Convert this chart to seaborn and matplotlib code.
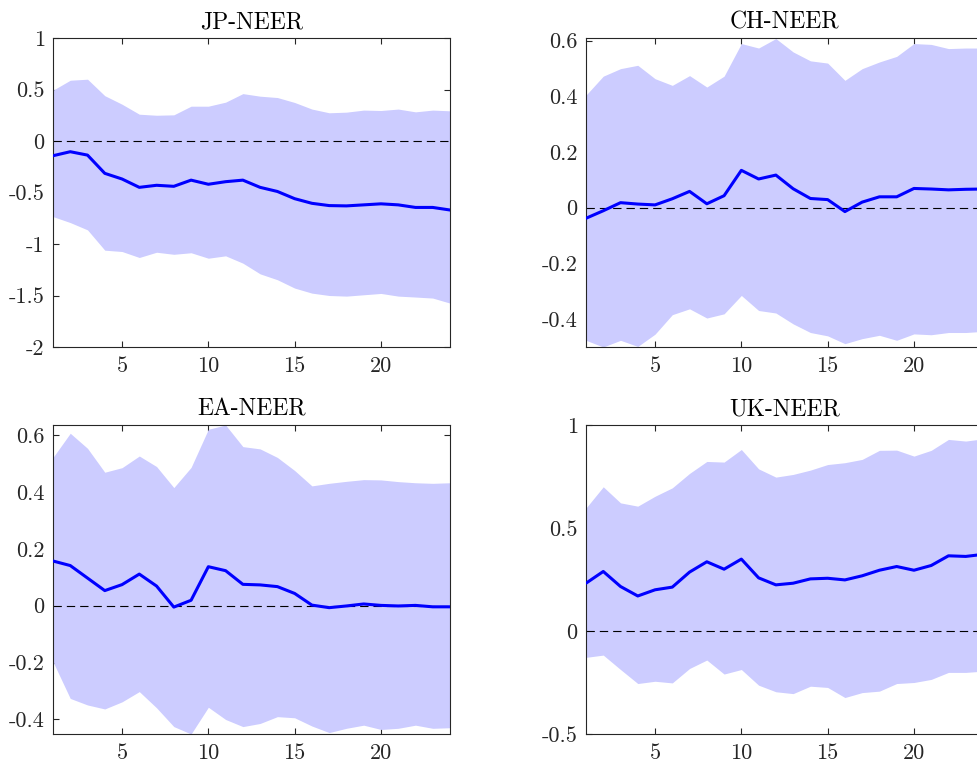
import numpy as np
import pandas as pd
import matplotlib
matplotlib.use("Agg")
import matplotlib.pyplot as plt
import seaborn as sns

horizon = list(range(1, 25))

jp_median = [-0.143, -0.104, -0.137, -0.314, -0.369, -0.45, -0.43, -0.44, -0.38, -0.42, -0.395, -0.38,
             -0.45, -0.49, -0.56, -0.605, -0.627, -0.63, -0.62, -0.61, -0.62, -0.645, -0.645, -0.67]
jp_upper = [0.493, 0.59, 0.60, 0.44, 0.357, 0.26, 0.25, 0.254, 0.338, 0.338, 0.377, 0.46,
            0.435, 0.422, 0.374, 0.31, 0.274, 0.28, 0.30, 0.296, 0.31, 0.283, 0.30, 0.293]
jp_lower = [-0.734, -0.792, -0.863, -1.06, -1.073, -1.131, -1.08, -1.10, -1.085, -1.138, -1.115, -1.186,
            -1.29, -1.347, -1.428, -1.477, -1.50, -1.506, -1.493, -1.48, -1.506, -1.515, -1.525, -1.574]

ch_median = [-0.038, -0.011, 0.018, 0.013, 0.01, 0.032, 0.0585, 0.014, 0.043, 0.134, 0.103, 0.117,
             0.068, 0.033, 0.029, -0.014, 0.02, 0.039, 0.039, 0.069, 0.067, 0.064, 0.066, 0.067]
ch_upper = [0.404, 0.472, 0.499, 0.511, 0.463, 0.439, 0.474, 0.433, 0.472, 0.589, 0.573, 0.607,
            0.559, 0.527, 0.519, 0.457, 0.499, 0.523, 0.543, 0.589, 0.586, 0.571, 0.573, 0.573]
ch_lower = [-0.476, -0.50, -0.476, -0.498, -0.454, -0.384, -0.363, -0.396, -0.381, -0.315, -0.369, -0.378,
            -0.417, -0.448, -0.46, -0.488, -0.47, -0.458, -0.476, -0.453, -0.456, -0.448, -0.448, -0.444]

ea_median = [0.157, 0.141, 0.097, 0.053, 0.074, 0.111, 0.069, -0.005, 0.019, 0.137, 0.123, 0.075,
             0.073, 0.067, 0.043, 0.002, -0.007, -0.001, 0.006, 0.001, -0.001, 0.001, -0.004, -0.004]
ea_upper = [0.521, 0.606, 0.553, 0.469, 0.485, 0.526, 0.489, 0.415, 0.486, 0.62, 0.635, 0.559,
            0.551, 0.521, 0.475, 0.421, 0.43, 0.437, 0.443, 0.442, 0.436, 0.432, 0.43, 0.432]
ea_lower = [-0.197, -0.326, -0.349, -0.363, -0.338, -0.302, -0.359, -0.425, -0.451, -0.357, -0.40, -0.425,
            -0.414, -0.39, -0.394, -0.423, -0.446, -0.431, -0.42, -0.435, -0.431, -0.42, -0.431, -0.429]

uk_median = [0.232, 0.289, 0.216, 0.17, 0.20, 0.213, 0.286, 0.336, 0.30, 0.349, 0.258, 0.224,
             0.232, 0.253, 0.256, 0.248, 0.268, 0.295, 0.313, 0.295, 0.318, 0.365, 0.362, 0.372]
uk_upper = [0.597, 0.70, 0.622, 0.606, 0.654, 0.695, 0.765, 0.823, 0.82, 0.881, 0.787, 0.747,
            0.76, 0.781, 0.808, 0.817, 0.833, 0.877, 0.878, 0.849, 0.877, 0.93, 0.922, 0.933]
uk_lower = [-0.128, -0.117, -0.187, -0.255, -0.244, -0.252, -0.182, -0.141, -0.209, -0.187, -0.263, -0.295,
            -0.304, -0.268, -0.274, -0.323, -0.299, -0.292, -0.255, -0.25, -0.235, -0.201, -0.201, -0.195]

titles = ["JP-NEER", "CH-NEER", "EA-NEER", "UK-NEER"]
x_ticks = [5, 10, 15, 20]
y_ticks = [
    [-2, -1.5, -1, -0.5, 0, 0.5, 1],
    [-0.4, -0.2, 0, 0.2, 0.4, 0.6],
    [-0.4, -0.2, 0, 0.2, 0.4, 0.6],
    [-0.5, 0, 0.5, 1],
]
y_tick_labels = [
    ["-2", "-1.5", "-1", "-0.5", "0", "0.5", "1"],
    ["-0.4", "-0.2", "0", "0.2", "0.4", "0.6"],
    ["-0.4", "-0.2", "0", "0.2", "0.4", "0.6"],
    ["-0.5", "0", "0.5", "1"],
]
y_limits = [(-2, 1), (-0.5, 0.609), (-0.451, 0.635), (-0.5, 1)]

sns.set_style("ticks")
plt.rcParams["font.family"] = ["cmr10", "DejaVu Serif"]
plt.rcParams["axes.unicode_minus"] = False
plt.rcParams["axes.formatter.use_mathtext"] = True

fig = plt.figure(figsize=(9.77, 7.68), dpi=100)
W, H = 977.0, 768.0
boxes = [
    (53, 38, 397, 309),
    (586, 38, 397, 309),
    (53, 425, 397, 309),
    (586, 425, 397, 309),
]

medians = [jp_median, ch_median, ea_median, uk_median]
uppers = [jp_upper, ch_upper, ea_upper, uk_upper]
lowers = [jp_lower, ch_lower, ea_lower, uk_lower]

edge = "#262626"
for i in range(4):
    l, t, w, h = boxes[i]
    ax = fig.add_axes([l / W, 1 - (t + h) / H, w / W, h / H])
    df = pd.DataFrame({"h": horizon, "med": medians[i], "lo": lowers[i], "hi": uppers[i]})
    ax.fill_between(df["h"], df["lo"], df["hi"], color="#ccccff", linewidth=0, zorder=1)
    ax.axhline(0, color="black", linewidth=0.8, linestyle=(0, (7.5, 4.5)), zorder=2)
    sns.lineplot(data=df, x="h", y="med", ax=ax, color="#0000ff", linewidth=2.2, zorder=3)
    ax.set_xlim(1, 24)
    ax.set_ylim(*y_limits[i])
    ax.set_xticks(x_ticks)
    ax.set_xticklabels([str(v) for v in x_ticks])
    ax.set_yticks(y_ticks[i])
    ax.set_yticklabels(y_tick_labels[i])
    ax.set_xlabel("")
    ax.set_ylabel("")
    ax.tick_params(direction="in", length=4, width=0.8, color=edge, labelsize=16,
                   top=True, right=True, pad=6, labelcolor="#262626")
    ax.tick_params(axis="x", pad=7)
    for s in ax.spines.values():
        s.set_color(edge)
        s.set_linewidth(0.8)
        s.set_visible(True)
    ax.set_title(titles[i], fontsize=17, pad=7, color="black")

fig.savefig("out.png", dpi=100)
